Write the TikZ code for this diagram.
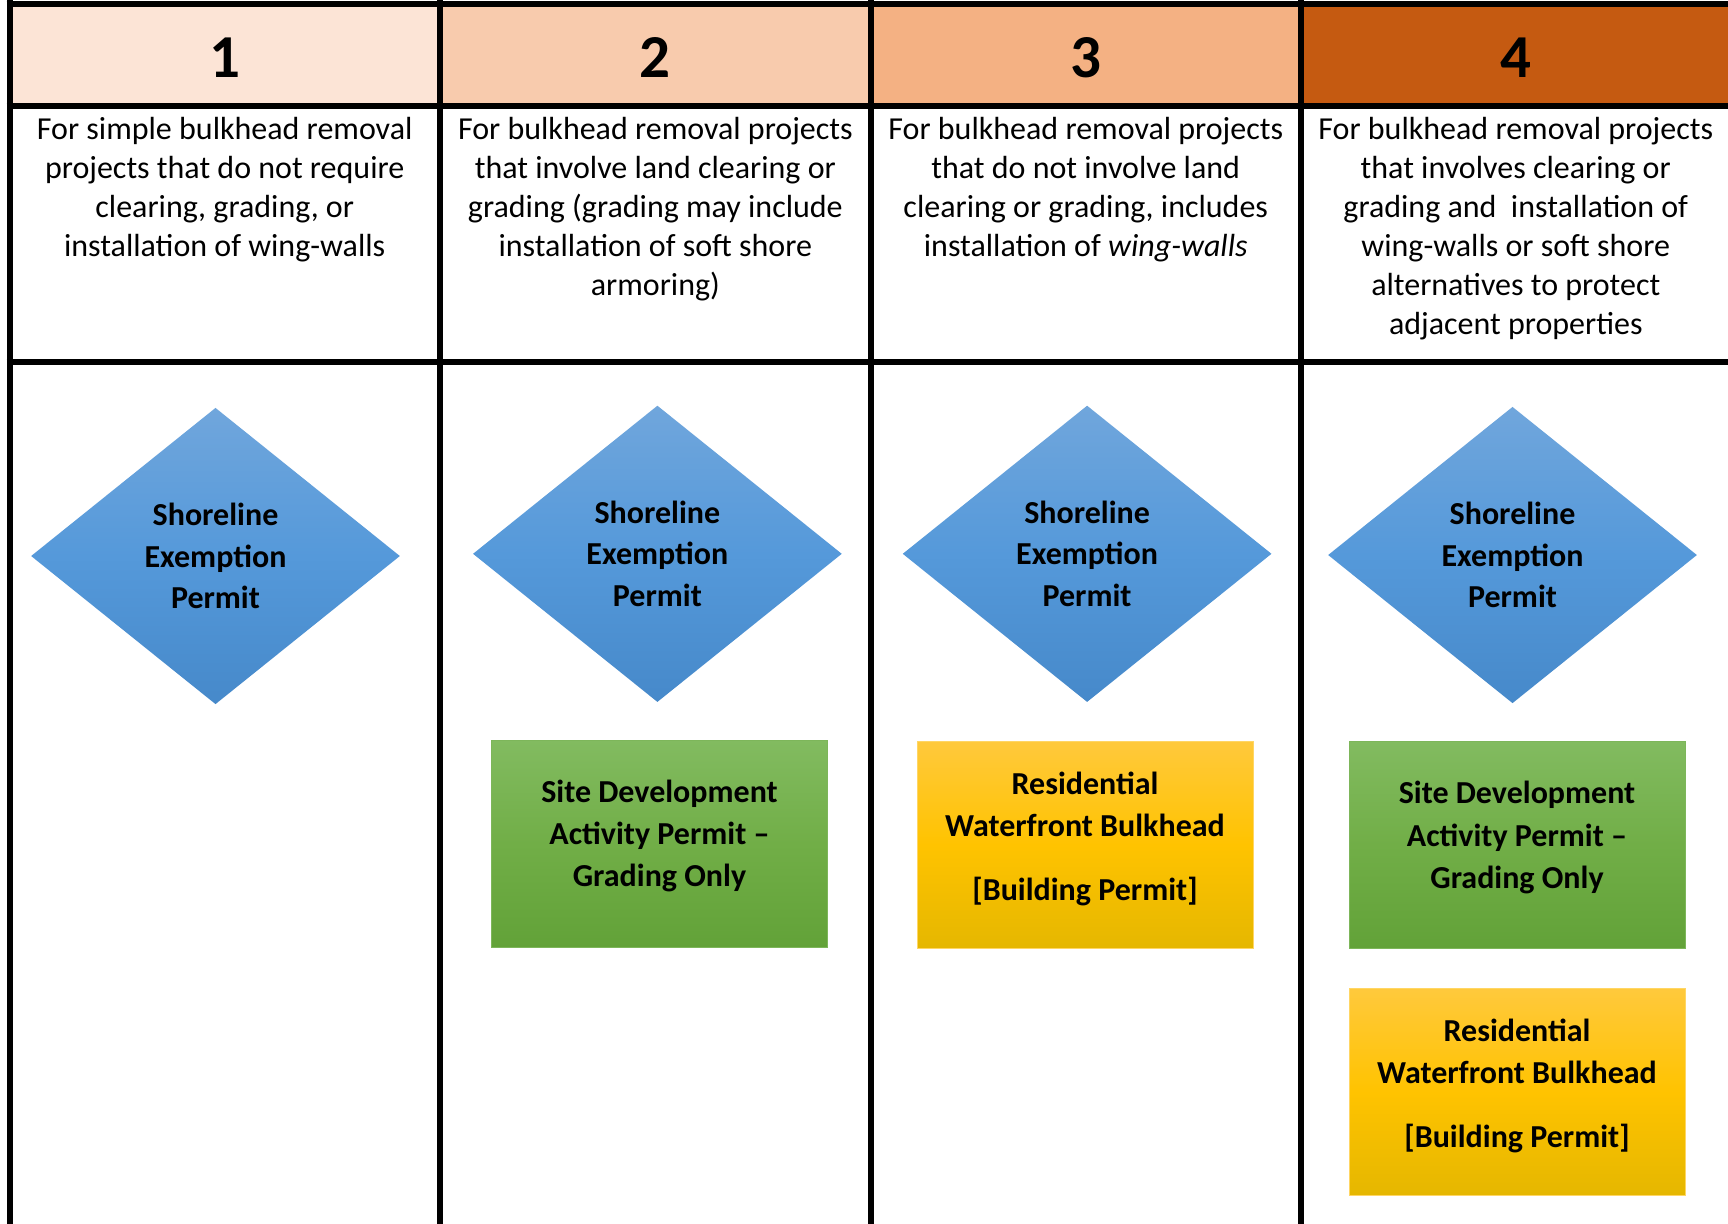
\documentclass[tikz,border=0pt]{standalone}
\usepackage{fontspec}
\setmainfont{Carlito}
\usetikzlibrary{shapes.geometric}
\definecolor{hA}{HTML}{FCE4D6}
\definecolor{hB}{HTML}{F8CBAD}
\definecolor{hC}{HTML}{F4B183}
\definecolor{hD}{HTML}{C55A11}
\definecolor{dTop}{RGB}{112,166,220}
\definecolor{dMid}{RGB}{85,153,218}
\definecolor{dBot}{RGB}{70,137,202}
\definecolor{gTop}{RGB}{130,187,96}
\definecolor{gMid}{RGB}{113,174,71}
\definecolor{gBot}{RGB}{98,162,56}
\definecolor{gEdge}{RGB}{125,182,90}
\definecolor{yTop}{RGB}{255,201,60}
\definecolor{yMid}{RGB}{255,195,0}
\definecolor{yBot}{RGB}{229,183,0}
\definecolor{yEdge}{RGB}{255,214,100}
\tikzset{
  hdrcell/.style={draw=none, inner sep=0pt, minimum height=51pt, text height=22.6pt, text depth=0pt,
     font=\fontsize{30.5}{36}\selectfont\bfseries},
  desctext/.style={anchor=north, inner sep=0pt, align=center, font=\fontsize{16}{19.45}\selectfont},
  permdiamond/.style={shape=diamond, inner sep=0pt, minimum width=184.5pt, minimum height=148.25pt,
     top color=dTop, bottom color=dBot, middle color=dMid, align=center,
     font=\fontsize{16}{20.8}\selectfont\bfseries},
  greenbox/.style={rectangle, inner sep=0pt, minimum width=168pt, minimum height=103.5pt,
     top color=gTop, bottom color=gBot, middle color=gMid, draw=gEdge, line width=0.5pt},
  yellowbox/.style={rectangle, inner sep=0pt, minimum width=168pt, minimum height=103.5pt,
     top color=yTop, bottom color=yBot, middle color=yMid, draw=yEdge, line width=0.5pt},
  boxtext/.style={anchor=north, inner sep=0pt, align=center, font=\fontsize{16}{21.2}\selectfont\bfseries},
  gridline/.style={line width=3pt, black}
}
\begin{document}
\begin{tikzpicture}[x=0.5pt, y=-0.5pt]
\useasboundingbox (0,0) rectangle (1728,1223);
\clip (0,0) rectangle (1728,1223);
\fill[white] (0,0) rectangle (1728,1223);

% header cells
\node[hdrcell, fill=hA, minimum width=215pt] (h1) at (224.7,54.5) {1};
\node[hdrcell, fill=hB, minimum width=215.65pt] (h2) at (655.35,54.5) {2};
\node[hdrcell, fill=hC, minimum width=214.75pt] (h3) at (1085.75,54.5) {3};
\node[hdrcell, fill=hD, minimum width=215.25pt] (h4) at (1515.75,54.5) {4};

% description texts
\node[desctext] (r1) at (224.7,112) {\strut For simple bulkhead removal\\ projects that do not require\\ clearing, grading, or\\ installation of wing-walls};
\node[desctext] (r2) at (655.35,112) {\strut For bulkhead removal projects\\ that involve land clearing or\\ grading (grading may include\\ installation of soft shore\\ armoring)};
\node[desctext] (r3) at (1085.75,112) {\strut For bulkhead removal projects\\ that do not involve land\\ clearing or grading, includes\\ installation of \textit{wing-walls}};
\node[desctext] (r4) at (1515.75,112) {\strut For bulkhead removal projects\\ that involves clearing or\\ grading and \ installation of\\ wing-walls or soft shore\\ alternatives to protect\\ adjacent properties};

% grid lines
\draw[gridline] (6.7,3.5) -- (1731,3.5);
\draw[gridline] (6.7,105.5) -- (1731,105.5);
\draw[gridline] (6.7,362) -- (1731,362);
\draw[gridline] (9.7,0) -- (9.7,1230);
\draw[gridline] (439.7,0) -- (439.7,1230);
\draw[gridline] (871,0) -- (871,1230);
\draw[gridline] (1300.5,0) -- (1300.5,1230);

% diamonds
\node[permdiamond] (d1) at (215.5,556) {Shoreline\\ Exemption\\ Permit};
\node[permdiamond] (d2) at (657.4,553.8) {Shoreline\\ Exemption\\ Permit};
\node[permdiamond] (d3) at (1087.1,553.8) {Shoreline\\ Exemption\\ Permit};
\node[permdiamond] (d4) at (1512.5,555) {Shoreline\\ Exemption\\ Permit};

% boxes
\node[greenbox] (b2) at (659.5,844) {};
\node[boxtext] (b2t) at (659.5,772) {\strut Site Development\\ Activity Permit --\\ Grading Only};

\node[yellowbox] (b3) at (1085,844.7) {};
\node[boxtext] (b3t) at (1085,764) {\strut Residential\\ Waterfront Bulkhead\\[10.75pt] {[}Building Permit{]}};

\node[greenbox] (b4) at (1517,845) {};
\node[boxtext] (b4t) at (1517,773.5) {\strut Site Development\\ Activity Permit --\\ Grading Only};

\node[yellowbox] (b5) at (1517,1092) {};
\node[boxtext] (b5t) at (1517,1011) {\strut Residential\\ Waterfront Bulkhead\\[10.75pt] {[}Building Permit{]}};
\end{tikzpicture}
\end{document}
